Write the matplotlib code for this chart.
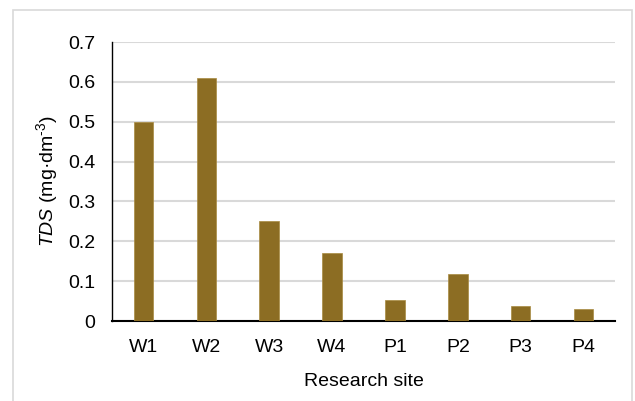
import matplotlib
matplotlib.use("Agg")
import matplotlib.pyplot as plt
from matplotlib.patches import Rectangle

sites = ["W1", "W2", "W3", "W4", "P1", "P2", "P3", "P4"]
tds = [0.50, 0.61, 0.25, 0.17, 0.053, 0.117, 0.038, 0.030]
yticks = [0, 0.1, 0.2, 0.3, 0.4, 0.5, 0.6, 0.7]
ytick_labels = ["0", "0.1", "0.2", "0.3", "0.4", "0.5", "0.6", "0.7"]

plt.rcParams['font.family'] = ['Liberation Sans', 'DejaVu Sans']
plt.rcParams['mathtext.fontset'] = 'custom'
plt.rcParams['mathtext.rm'] = 'Liberation Sans'
plt.rcParams['mathtext.it'] = 'Liberation Sans:italic'

fig = plt.figure(figsize=(6.35, 4.01), dpi=100)
fig.patches.append(Rectangle((13/635, -0.01), (632-13)/635, 1 - 10/401 + 0.01,
                             transform=fig.transFigure, fill=False,
                             edgecolor='#d9d9d9', linewidth=1.2))
ax = fig.add_axes([112/635, 1 - 321/401, (615-112)/635, (321-42)/401])

x = range(len(sites))
ax.bar(x, tds, width=0.31, color='#8c6d23', edgecolor='#a88a40', linewidth=0.5, zorder=3)
ax.set_xlim(-0.5, len(sites) - 0.5)
ax.set_ylim(0, 0.7)
ax.set_yticks(yticks)
ax.set_yticklabels(ytick_labels)
ax.set_xticks(list(x))
ax.set_xticklabels(sites)
ax.tick_params(axis='both', length=0, labelsize=14, colors='black')
ax.tick_params(axis='y', pad=12)
ax.tick_params(axis='x', pad=13)
ax.grid(axis='y', color='#d9d9d9', linewidth=1.5, zorder=0)
for s in ['top', 'right']:
    ax.spines[s].set_visible(False)
ax.spines['left'].set_color('black')
ax.spines['bottom'].set_color('black')
ax.spines['left'].set_linewidth(1.0)
ax.spines['bottom'].set_linewidth(1.5)
ax.set_xlabel("Research site", fontsize=14, labelpad=12)
ax.set_ylabel(r"$\it{TDS}$ (mg·dm$^{\text{-3}}$)", fontsize=14, labelpad=6)

fig.savefig("out.png", dpi=100)
